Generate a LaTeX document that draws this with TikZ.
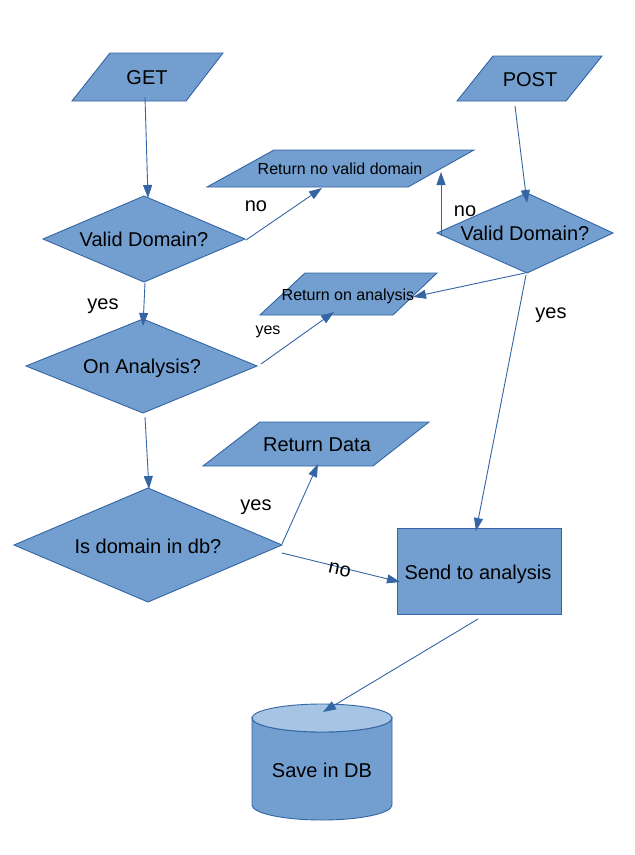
\documentclass[tikz,border=0pt]{standalone}
\usepackage{fontspec}
\setmainfont{Liberation Sans}
\usetikzlibrary{arrows.meta}
\definecolor{shapefill}{HTML}{729FCF}
\definecolor{shapeline}{HTML}{3465A4}
\definecolor{cyltop}{HTML}{A6C4E4}
\tikzset{
  shapebox/.style={fill=shapefill, draw=shapeline, line width=0.9pt, line join=miter},
  cyltopbox/.style={fill=cyltop, draw=shapeline, line width=0.9pt},
  bigtext/.style={font=\fontsize{20}{24}\selectfont, inner sep=0pt, text height=14.4pt, text depth=0pt},
  smalltext/.style={font=\fontsize{16}{19}\selectfont, inner sep=0pt, text height=11.5pt, text depth=0pt},
  conn/.style={draw=shapeline, line width=0.9pt, -{Triangle[length=13pt,width=9pt]}},
}
\begin{document}
\begin{tikzpicture}[x=1pt,y=-1pt]
\useasboundingbox (0,0) rectangle (635,855);

% ---------- shapes ----------
% GET
\draw[shapebox] (110,53) -- (223,53) -- (186,101) -- (72,101) -- cycle;
\node[bigtext] (get) at (147,77) {GET};
% POST
\draw[shapebox] (493,56) -- (602,56) -- (566,101) -- (457,101) -- cycle;
\node[bigtext] (post) at (530,79) {POST};
% Return no valid domain
\draw[shapebox] (274,150) -- (474,150) -- (408,187) -- (207,187) -- cycle;
\node[smalltext] (rnvd) at (340,169) {Return no valid domain};
% Return on analysis
\draw[shapebox] (305,273) -- (437,273) -- (393,315) -- (260,315) -- cycle;
\node[smalltext] (roa) at (348,295) {Return on analysis};
% Return Data
\draw[shapebox] (260,422) -- (429,422) -- (373,466) -- (203,466) -- cycle;
\node[bigtext] (rd) at (317,444) {Return Data};
% Valid Domain? (left)
\draw[shapebox] (43,239) -- (144,196) -- (245,239) -- (144,282) -- cycle;
\node[bigtext] (vd1) at (144,239) {Valid Domain?};
% Valid Domain? (right)
\draw[shapebox] (437,233) -- (527,193) -- (613,233) -- (527,273) -- cycle;
\node[bigtext] (vd2) at (525,233) {Valid Domain?};
% On Analysis?
\draw[shapebox] (26,366) -- (143,319) -- (257,366) -- (143,413) -- cycle;
\node[bigtext] (oa) at (142,366) {On Analysis?};
% Is domain in db?
\draw[shapebox] (14,545) -- (148,488) -- (282,545) -- (148,602) -- cycle;
\node[bigtext] (idb) at (148,546) {Is domain in db?};
% Send to analysis
\draw[shapebox] (397,528) rectangle (561,614);
\node[bigtext] (sta) at (478,572) {Send to analysis};
% Save in DB cylinder
\draw[shapebox] (252,718) -- (252,805)
  arc[start angle=180, end angle=0, x radius=70, y radius=15]
  -- (392,718)
  arc[start angle=0, end angle=180, x radius=70, y radius=14] -- cycle;
\draw[cyltopbox] (322,718) ellipse[x radius=70, y radius=14];
\node[bigtext] (db) at (322,770) {Save in DB};

% ---------- connector end points ----------
\coordinate (get-out) at (145,97);
\coordinate (vd1-in) at (148,198);
\coordinate (vd1-no) at (246,240);
\coordinate (rnvd-in1) at (322,188);
\coordinate (vd1-yes) at (145,283);
\coordinate (oa-in) at (143,326);
\coordinate (oa-yes) at (261,364);
\coordinate (roa-in1) at (334,312);
\coordinate (oa-no) at (145,417);
\coordinate (idb-in) at (149,489);
\coordinate (idb-yes) at (282,544);
\coordinate (rd-in) at (318,464);
\coordinate (idb-no) at (282,553);
\coordinate (sta-in1) at (400,582);
\coordinate (post-out) at (515,106);
\coordinate (vd2-in) at (527,203);
\coordinate (vd2-no) at (441,236);
\coordinate (rnvd-in2) at (441,172);
\coordinate (vd2-bot) at (525,273);
\coordinate (roa-in2) at (413,297);
\coordinate (vd2-yes) at (526,275);
\coordinate (sta-in2) at (476,531);
\coordinate (sta-out) at (478,619);
\coordinate (db-in) at (323,712);

% ---------- connectors ----------
\draw[conn] (get-out) -- (vd1-in);
\draw[conn] (vd1-no) -- (rnvd-in1);
\draw[conn] (vd1-yes) -- (oa-in);
\draw[conn] (oa-yes) -- (roa-in1);
\draw[conn] (oa-no) -- (idb-in);
\draw[conn] (idb-yes) -- (rd-in);
\draw[conn] (idb-no) -- (sta-in1);
\draw[conn] (post-out) -- (vd2-in);
\draw[conn] (vd2-no) -- (rnvd-in2);
\draw[conn] (vd2-bot) -- (roa-in2);
\draw[conn] (vd2-yes) -- (sta-in2);
\draw[conn] (sta-out) -- (db-in);

% ---------- labels ----------
\node[bigtext] (l-no1) at (256,204) {no};
\node[bigtext] (l-yes1) at (103,302) {yes};
\node[smalltext] (l-yes2) at (268,329) {yes};
\node[bigtext] (l-yes3) at (256,503) {yes};
\node[bigtext, rotate=-12] (l-no2) at (340,568) {no};
\node[bigtext] (l-no3) at (465,209) {no};
\node[bigtext] (l-yes4) at (551,311) {yes};
\end{tikzpicture}
\end{document}
